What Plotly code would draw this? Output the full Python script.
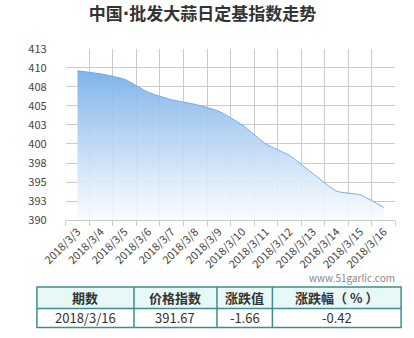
import plotly.graph_objects as go

W, H = 414, 338

dates = ["2018/3/3", "2018/3/4", "2018/3/5", "2018/3/6", "2018/3/7", "2018/3/8", "2018/3/9",
         "2018/3/10", "2018/3/11", "2018/3/12", "2018/3/13", "2018/3/14", "2018/3/15", "2018/3/16"]
index_values = [409.6, 409.2, 408.5, 406.8, 405.8, 405.2, 404.3,
                402.5, 400.0, 398.5, 396.1, 393.8, 393.33, 391.67]

y_tickvals = [390, 392.5, 395, 397.5, 400, 402.5, 405, 407.5, 410, 412.5]
y_ticktext = ["390", "393", "395", "398", "400", "403", "405", "408", "410", "413"]
y_min, y_max = 390, 412.5

table_header = ["期数", "价格指数", "涨跌值", "涨跌幅（ % ）"]
table_row = ["2018/3/16", "391.67", "-1.66", "-0.42"]

FONT = "Noto Sans CJK SC"

fig = go.Figure()

# baseline for fill
fig.add_trace(go.Scatter(
    x=dates, y=[y_min] * len(dates), mode="lines",
    line=dict(width=0, color="rgba(0,0,0,0)"), hoverinfo="skip", showlegend=False,
))
fig.add_trace(go.Scatter(
    x=dates, y=index_values, mode="lines",
    line=dict(width=1, color="rgba(110,165,225,0.9)", shape="spline", smoothing=0.5),
    fill="tonexty",
    fillgradient=dict(type="vertical",
                      colorscale=[[0, "rgba(255,255,255,0.9)"],
                                  [0.25, "rgba(226,238,251,0.9)"],
                                  [1, "rgba(120,175,232,0.93)"]],
                      start=y_min, stop=409.6),
    showlegend=False,
))

grid = "#cbcbcb"
fig.update_layout(
    width=W, height=H,
    margin=dict(l=0, r=0, t=0, b=0),
    paper_bgcolor="white", plot_bgcolor="white",
    font=dict(family=FONT, color="#444"),
    title=dict(text="<b>中国<span style='font-family:DejaVu Sans'>·</span>批发大蒜日定基指数走势</b>",
               x=202.5 / W, xanchor="center",
               y=1 - 14 / H, yanchor="middle",
               font=dict(size=17, color="#333", family=FONT)),
    xaxis=dict(
        domain=[43.3 / W, 394.3 / W],
        type="category", range=[-0.5, len(dates) - 0.5],
        tickson="boundaries", showgrid=True, gridcolor=grid, gridwidth=1,
        ticks="outside", ticklen=5, tickcolor=grid,
        showline=True, linecolor=grid, linewidth=1,
        tickangle=-45, tickfont=dict(size=11, color="#444", family=FONT),
        zeroline=False, fixedrange=True,
    ),
    yaxis=dict(
        domain=[(H - 221.7) / H, (H - 41.7) / H],
        range=[y_min, y_max],
        tickvals=y_tickvals, ticktext=y_ticktext,
        showgrid=True, gridcolor=grid, gridwidth=1,
        zeroline=False, ticks="", ticklabelstandoff=18,
        tickfont=dict(size=11, color="#444", family=FONT),
        fixedrange=True,
    ),
)

fig.add_annotation(text="www.51garlic.com", xref="paper", yref="paper",
                   x=396 / W, y=1 - 281.5 / H, xanchor="right", yanchor="middle",
                   showarrow=False, font=dict(size=10, color="#888", family=FONT))

# table drawn with shapes + annotations
border = "#3e8e8e"
col_edges = [12.7, 116, 204.3, 263.3, 400.3]
row_edges = [291.7, 314.3, 334.3]


def px(x):
    return x / W


def py(y):
    return 1 - y / H


fig.add_shape(type="rect", xref="paper", yref="paper",
              x0=px(col_edges[0]), x1=px(col_edges[-1]), y0=py(row_edges[0]), y1=py(row_edges[1]),
              fillcolor="#e8f8f6", line=dict(width=0), layer="below")
fig.add_shape(type="rect", xref="paper", yref="paper",
              x0=px(col_edges[0]), x1=px(col_edges[-1]), y0=py(row_edges[0]), y1=py(row_edges[-1]),
              fillcolor="rgba(0,0,0,0)", line=dict(color=border, width=1.5))
fig.add_shape(type="line", xref="paper", yref="paper",
              x0=px(col_edges[0]), x1=px(col_edges[-1]), y0=py(row_edges[1]), y1=py(row_edges[1]),
              line=dict(color=border, width=1.5))
for xe in col_edges[1:-1]:
    fig.add_shape(type="line", xref="paper", yref="paper",
                  x0=px(xe), x1=px(xe), y0=py(row_edges[0]), y1=py(row_edges[-1]),
                  line=dict(color=border, width=1.5))

for i, (h, v) in enumerate(zip(table_header, table_row)):
    cx = (col_edges[i] + col_edges[i + 1]) / 2
    fig.add_annotation(text="<b>%s</b>" % h, xref="paper", yref="paper",
                       x=px(cx), y=py((row_edges[0] + row_edges[1]) / 2),
                       xanchor="center", yanchor="middle", showarrow=False,
                       font=dict(size=13, color="#333", family=FONT))
    fig.add_annotation(text=v, xref="paper", yref="paper",
                       x=px(cx), y=py((row_edges[1] + row_edges[2]) / 2),
                       xanchor="center", yanchor="middle", showarrow=False,
                       font=dict(size=13, color="#333", family=FONT))

fig.write_html("out.html")
